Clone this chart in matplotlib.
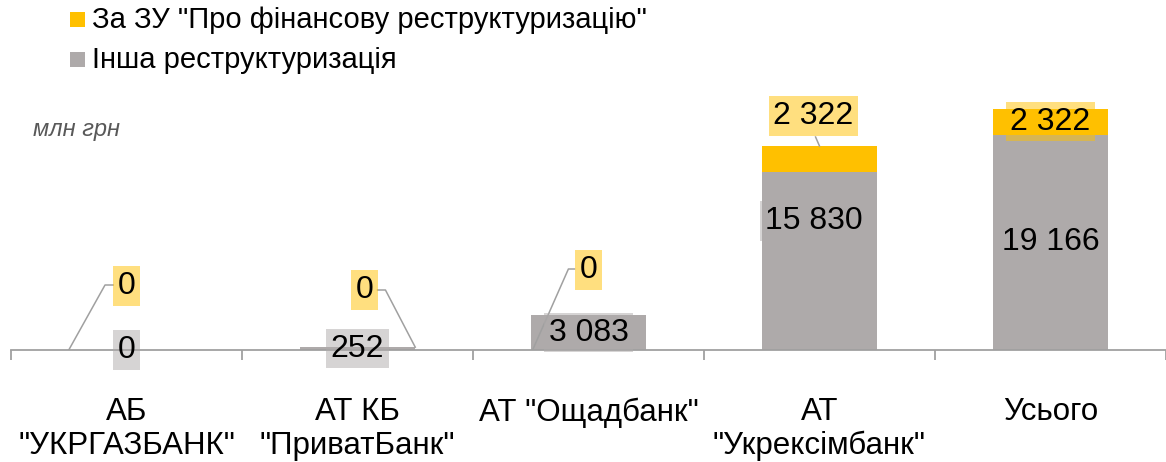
import matplotlib
matplotlib.use("Agg")
import matplotlib.pyplot as plt
from matplotlib.patches import Rectangle

plt.rcParams["font.family"] = ["Liberation Sans", "DejaVu Sans"]

# values, mln UAH
categories = ["АБ\n\"УКРГАЗБАНК\"", "АТ КБ\n\"ПриватБанк\"", "АТ \"Ощадбанк\"",
              "АТ\n\"Укрексімбанк\"", "Усього"]
other_restr = [0, 252, 3083, 15830, 19166]
law_restr = [0, 0, 0, 2322, 2322]
series_names = ["За ЗУ \"Про фінансову реструктуризацію\"", "Інша реструктуризація"]
unit_label = "млн грн"

ORANGE = "#FFC000"
GREY = "#AEAAAA"
AXIS = "#A0A0A0"
BAR_W = 0.5


def fmt(v):
    return f"{v:,}".replace(",", " ")


fig = plt.figure(figsize=(11.66, 4.62), dpi=100)
ax = fig.add_axes([11 / 1166, 112 / 462, 1155 / 1166, 250 / 462])

x = list(range(len(categories)))
ax.bar(x, other_restr, width=BAR_W, color=GREY, linewidth=0, zorder=2)
ax.bar(x, law_restr, width=BAR_W, bottom=other_restr, color=ORANGE, linewidth=0, zorder=2)

ax.set_xlim(-0.5, len(categories) - 0.5)
ax.set_ylim(0, 22250)
for s in ["top", "right", "left"]:
    ax.spines[s].set_visible(False)
ax.spines["bottom"].set_color(AXIS)
ax.spines["bottom"].set_linewidth(1.3)
ax.set_yticks([])
ax.set_xticks([i - 0.5 for i in range(len(categories) + 1)])
ax.set_xticklabels([])
ax.tick_params(axis="x", which="major", length=7.5, width=1.3, color=AXIS, direction="out")
ax.set_xticks(x, minor=True)
ax.set_xticklabels(categories, minor=True, fontsize=22.5, linespacing=1.15)
ax.tick_params(axis="x", which="minor", length=0, pad=34)

# data labels: (dx, y) where the label was dragged away from its default spot
grey_moved = {3: (-0.026, 11480)}
orange_moved = {0: (0.0, 5700), 1: (0.03, 5340), 2: (0.0, 7120), 3: (-0.026, 20830)}

label_kw = dict(ha="center", va="center", fontsize=23, zorder=5)
for i in x:
    dx, y = grey_moved.get(i, (0, other_restr[i] / 2))
    ax.text(i + dx, y, fmt(other_restr[i]),
            bbox=dict(boxstyle="square,pad=0.15", fc=GREY, ec="none", alpha=0.5), **label_kw)
    dx, y = orange_moved.get(i, (0, other_restr[i] + law_restr[i] / 2))
    ax.text(i + dx, y, fmt(law_restr[i]),
            bbox=dict(boxstyle="square,pad=0.15", fc=ORANGE, ec="none", alpha=0.5), **label_kw)

# leader lines for the moved labels
leaders = [
    [(-0.058, 5785), (-0.093, 5785), (-0.25, 0)],
    [(1.087, 5340), (1.121, 5340), (1.25, 252)],
    [(1.939, 7209), (1.913, 7209), (1.758, 0)],
    [(2.983, 18957), (3.0, 18152)],
]
for pts in leaders:
    ax.plot([p[0] for p in pts], [p[1] for p in pts], color=AXIS, lw=1.1, zorder=3)

# legend, drawn by hand to match the original layout
for k, (name, col) in enumerate(zip(series_names, [ORANGE, GREY])):
    yc = 1 - (19.5 + 40 * k) / 462
    fig.add_artist(Rectangle((70 / 1166, yc - 7.5 / 462), 15 / 1166, 15 / 462,
                             transform=fig.transFigure, color=col, lw=0))
    fig.text(92 / 1166, yc, name, fontsize=21, va="center", ha="left")

fig.text(33 / 1166, 1 - 136 / 462, unit_label, fontsize=17, style="italic",
         color="#595959", va="baseline", ha="left")

fig.savefig("out.png", dpi=100)
